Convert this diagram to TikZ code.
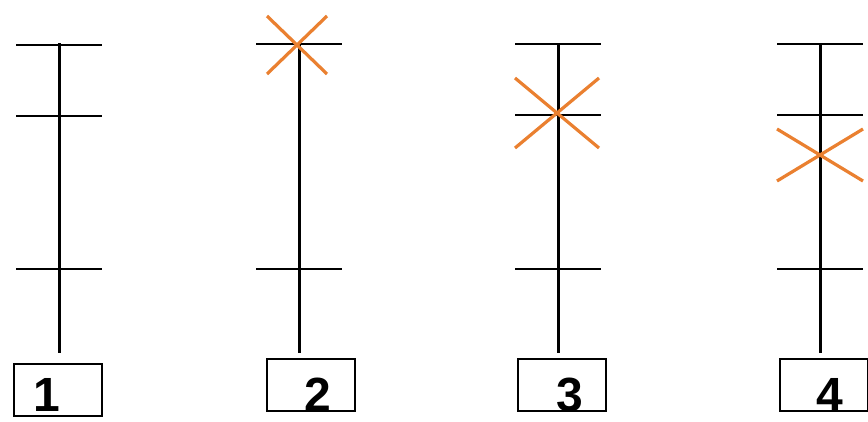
\documentclass[tikz,border=0pt]{standalone}
\usepackage{fontspec}
\setmainfont{Liberation Sans}
\usetikzlibrary{positioning}
\definecolor{crossorange}{RGB}{234,128,48}

\begin{document}
\begin{tikzpicture}[x=1pt,y=-1pt,
  axis/.style={line width=3pt},
  tick/.style={line width=2.2pt},
  numbox/.style={draw, line width=1.8pt, minimum width=88pt, minimum height=52pt, inner sep=0pt},
  numlabel/.style={font=\fontsize{48}{48}\selectfont\bfseries, inner sep=0pt, anchor=base},
  cross/.style={crossorange, line width=3.2pt}
]
  \clip (0,0) rectangle (868,421);
  \fill[white] (0,0) rectangle (868,421);

  % columns: number / line x / box centre x / label x / box top / gap / ticks
  \foreach \n/\lx/\bx/\tx/\by/\gap/\ticks in {1/59/58/47/363/10/{45,116,269},
      2/299/311/318/358/5/{44,269},
      3/558/562/570/358/5/{44,115,269},
      4/820/824/830/358/5/{44,115,269}}{
    \node[numbox, anchor=north] (box\n) at (\bx,\by) {};
    \node[numlabel] (num\n) at (\tx,411) {\n};
    \coordinate (top\n) at (\lx,43);
    \draw[axis, shorten >=\gap pt] (top\n) -- (top\n |- box\n.north);
    \foreach \ty in \ticks
      \draw[tick] (\lx-43,\ty) -- (\lx+43,\ty);
  }

  % crosses
  \foreach \cx/\cy/\hw/\hh in {297/45/30/29, 557/113/42/35, 820/155/43/26}{
    \draw[cross] (\cx-\hw,\cy-\hh) -- (\cx+\hw,\cy+\hh);
    \draw[cross] (\cx-\hw,\cy+\hh) -- (\cx+\hw,\cy-\hh);
  }
\end{tikzpicture}
\end{document}
